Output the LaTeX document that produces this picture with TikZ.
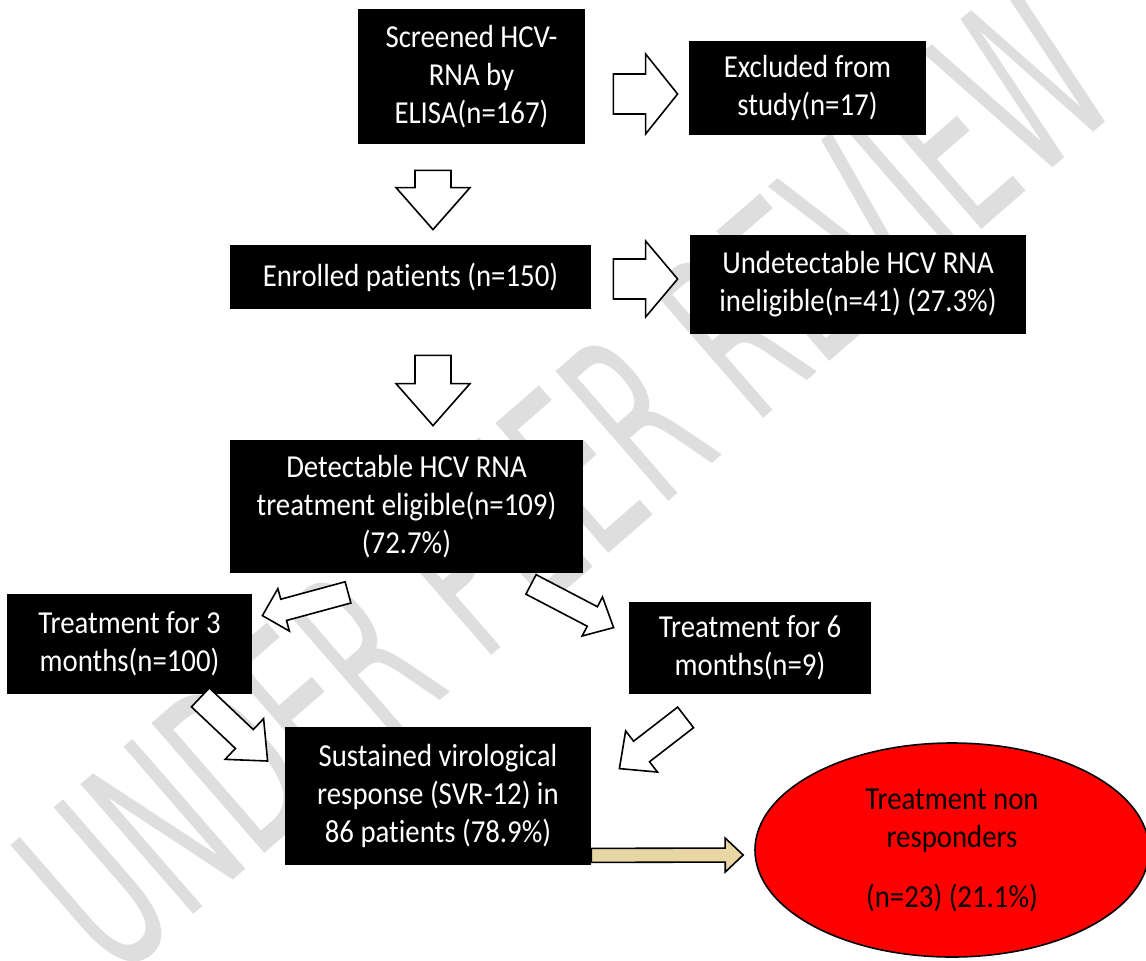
\documentclass[tikz,border=0pt]{standalone}
\usepackage{fontspec}
\setmainfont{Carlito}[FakeStretch=0.9, Ligatures=NoCommon]
\newfontfamily\wmfont{DejaVu Sans}
\usetikzlibrary{calc,shapes.geometric}

\definecolor{tanfill}{RGB}{232,214,165}
\definecolor{wmgray}{RGB}{222,222,222}

\tikzset{
    blackbox/.style={fill=black, text=white, align=center, inner sep=0pt,
        font=\fontsize{16}{19}\selectfont},
    redoval/.style={ellipse, draw=black, line width=0.8pt, fill=red, text=black,
        align=center, inner sep=0pt, font=\fontsize{16}{19}\selectfont},
    fatarrow/.style={draw=black, fill=white, line width=0.8pt, line join=miter},
    wmtext/.style={text=wmgray, font=\wmfont\fontsize{118}{118}\selectfont,
        rotate=41, xscale=0.53}
}

% #2 start, #3 tip, #4 half shaft, #5 half head, #6 head length
\newcommand{\blockarrow}[6][]{%
    \coordinate (bah) at ($(#3)!#6!(#2)$);
    \draw[fatarrow,#1] ($(#2)!#4!90:(#3)$) -- ($(bah)!#4!90:(#3)$)
        -- ($(bah)!#5!90:(#3)$) -- (#3) -- ($(bah)!#5!-90:(#3)$)
        -- ($(bah)!#4!-90:(#3)$) -- ($(#2)!#4!-90:(#3)$) -- cycle;
}

\begin{document}
\begin{tikzpicture}[x=0.5pt, y=-0.5pt]
    \useasboundingbox (0,0) rectangle (1146,960);
    \clip (0,0) rectangle (1146,960);
    \fill[white] (0,0) rectangle (1146,960);

    \node[wmtext] (wmark) at (565,480) {UNDER PEER REVIEW};

    \node[blackbox, minimum width=113.5pt, minimum height=67.5pt] (screen) at (471.5,76.5)
        {Screened HCV-\\RNA by\\ELISA(n=167)};
    \node[blackbox, minimum width=118.5pt, minimum height=47pt] (excl) at (807.5,88)
        {Excluded from\\study(n=17)};
    \node[blackbox, minimum width=180.5pt, minimum height=32pt] (enrol) at (410.5,277)
        {Enrolled patients (n=150)};
    \node[blackbox, minimum width=168pt, minimum height=49.5pt] (undet) at (858,284.5)
        {Undetectable HCV RNA\\ineligible(n=41) (27.3\%)};
    \node[blackbox, minimum width=176.5pt, minimum height=66.5pt] (detect) at (406.5,506.5)
        {Detectable HCV RNA\\treatment eligible(n=109)\\(72.7\%)};
    \node[blackbox, minimum width=122.5pt, minimum height=50pt] (treat3) at (129.5,644)
        {Treatment for 3\\months(n=100)};
    \node[blackbox, minimum width=121pt, minimum height=46pt] (treat6) at (750,648)
        {Treatment for 6\\months(n=9)};
    \node[blackbox, minimum width=153pt, minimum height=69pt] (svr) at (438,796)
        {Sustained virological\\response (SVR-12) in\\86 patients (78.9\%)};
    \node[redoval, minimum width=197pt, minimum height=107pt] (nonresp) at (952,850)
        {Treatment non\\responders\\[11pt](n=23) (21.1\%)};

    % arrow ends
    \coordinate (a1s) at ($(screen.east)+(28,17.5)$);
    \coordinate (a1e) at ($(excl.west)+(-11,6)$);
    \coordinate (d1s) at ($(screen.south)+(-38.5,26)$);
    \coordinate (d1e) at ($(enrol.north)+(22.5,-15)$);
    \coordinate (a2s) at ($(enrol.east)+(22,2)$);
    \coordinate (a2e) at ($(undet.west)+(-12,-5.5)$);
    \coordinate (d2s) at ($(enrol.south)+(22.5,46)$);
    \coordinate (d2e) at ($(detect.north)+(26.5,-14)$);
    \coordinate (l1s) at ($(detect.south)+(-58.5,19)$);
    \coordinate (l1e) at ($(treat3.north east)+(10,22)$);
    \coordinate (r1s) at ($(detect.south)+(124.5,11)$);
    \coordinate (r1e) at ($(treat6.north west)+(-15,26)$);
    \coordinate (l2s) at ($(treat3.south east)+(-52,3)$);
    \coordinate (l2e) at ($(svr.west)+(-17,-35)$);
    \coordinate (r2s) at ($(treat6.south west)+(57,23)$);
    \coordinate (r2e) at ($(svr.north east)+(28,42)$);
    \coordinate (t1s) at ($(svr.south east)+(0,-10)$);
    \coordinate (t1e) at ($(nonresp.west)+(-11,5)$);

    \blockarrow{a1s}{a1e}{10pt}{20pt}{16pt}
    \blockarrow{d1s}{d1e}{9pt}{18.5pt}{21pt}
    \blockarrow{a2s}{a2e}{10pt}{19pt}{16pt}
    \blockarrow{d2s}{d2e}{9pt}{18.5pt}{21pt}
    \blockarrow{l1s}{l1e}{5.5pt}{11pt}{11pt}
    \blockarrow{r1s}{r1e}{5.5pt}{11pt}{12pt}
    \blockarrow{l2s}{l2e}{6.5pt}{14pt}{16pt}
    \blockarrow{r2s}{r2e}{6.5pt}{13pt}{14pt}
    \blockarrow[fill=tanfill]{t1s}{t1e}{3.5pt}{8.5pt}{9pt}
\end{tikzpicture}
\end{document}
